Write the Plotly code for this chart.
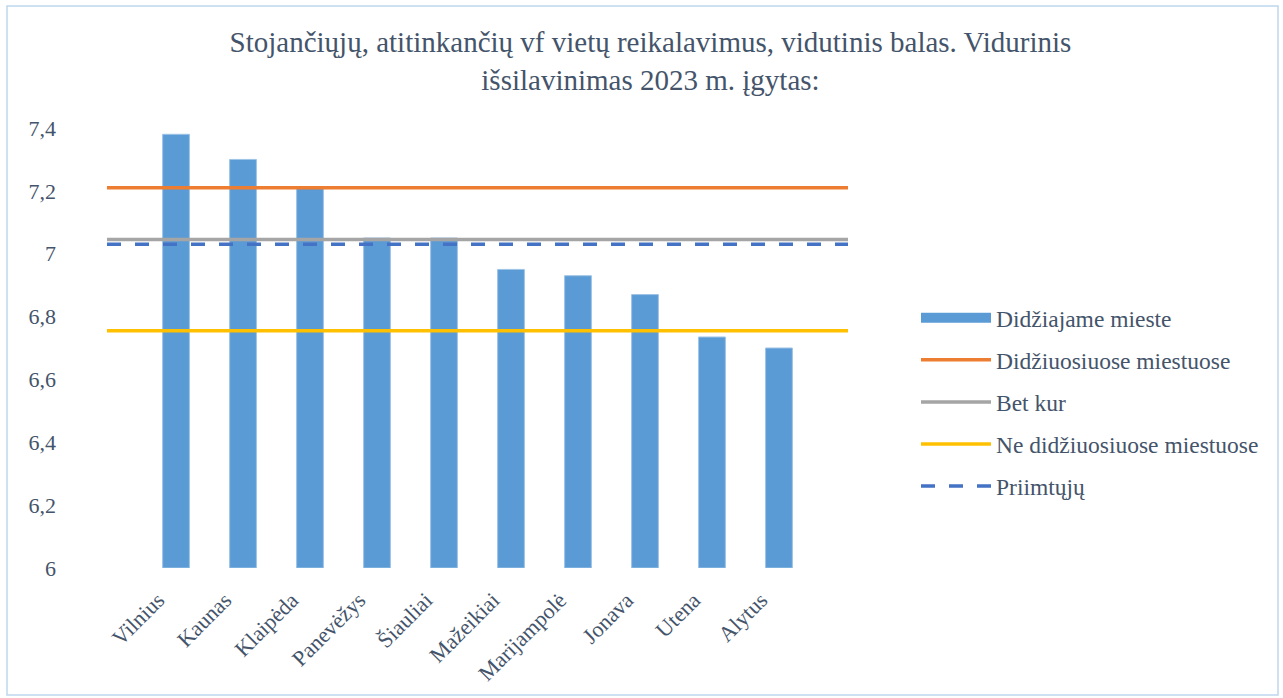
import plotly.graph_objects as go

cities = ["Vilnius", "Kaunas", "Klaipėda", "Panevėžys", "Šiauliai",
          "Mažeikiai", "Marijampolė", "Jonava", "Utena", "Alytus"]
didziajame_mieste = [7.38, 7.30, 7.21, 7.05, 7.05, 6.95, 6.93, 6.87, 6.735, 6.70]

didziuosiuose_miestuose = 7.21
bet_kur = 7.045
ne_didziuosiuose = 6.755
priimtuju = 7.03

y_ticks = [6, 6.2, 6.4, 6.6, 6.8, 7, 7.2, 7.4]
y_tick_labels = ["6", "6,2", "6,4", "6,6", "6,8", "7", "7,2", "7,4"]

title_text = ("Stojančiųjų, atitinkančių vf vietų reikalavimus, vidutinis balas. Vidurinis<br>"
              "išsilavinimas 2023 m. įgytas:")

TEXT = "#44546A"
FONT = "Liberation Serif"

idx = list(range(len(cities)))
x_lo, x_hi = -1.03, len(cities) - 1 + 1.03

W, H = 1283, 698
L, R, T, B = 107, 435, 128, 130
PW, PH = W - L - R, H - T - B


def px_x(p):
    return (p - L) / PW


def px_y(p):
    return (H - B - p) / PH


fig = go.Figure()

fig.add_trace(go.Bar(
    x=idx, y=[v - 6 for v in didziajame_mieste], base=6,
    width=0.4, marker=dict(color="#5B9BD5", line=dict(color="#9DC3E6", width=1)),
    name="Didžiajame mieste", showlegend=False, legendgroup="a",
    hovertext=[f"{c}: {v}" for c, v in zip(cities, didziajame_mieste)],
))
# legend swatch for bars
fig.add_trace(go.Scatter(
    x=[None], y=[None], mode="lines", name="Didžiajame mieste",
    line=dict(color="#5B9BD5", width=11), legendgroup="a",
))

lines = [
    ("Didžiuosiuose miestuose", didziuosiuose_miestuose, "#ED7D31", "solid", "b"),
    ("Bet kur", bet_kur, "#A5A5A5", "solid", "c"),
    ("Ne didžiuosiuose miestuose", ne_didziuosiuose, "#FFC000", "solid", "d"),
    ("Priimtųjų", priimtuju, "#4472C4", "14px,14px", "e"),
]
for name, val, color, dash, grp in lines:
    fig.add_trace(go.Scatter(
        x=[x_lo, x_hi], y=[val, val], mode="lines", name=name,
        line=dict(color=color, width=3.5, dash=dash), legendgroup=grp,
    ))

fig.update_layout(
    width=W, height=H,
    paper_bgcolor="white", plot_bgcolor="white",
    margin=dict(l=L, r=R, t=T, b=B, autoexpand=False),
    font=dict(family=FONT, color=TEXT, size=22),
    title=dict(text=title_text, x=0.507, xanchor="center", y=0.925, yanchor="top",
               font=dict(family=FONT, size=29, color=TEXT)),
    xaxis=dict(range=[x_lo, x_hi], tickvals=idx, ticktext=cities, tickangle=-45,
               showgrid=False, zeroline=False, showline=False,
               ticklabelstandoff=14, ticklabelshift=-18,
               tickfont=dict(size=22, color=TEXT)),
    yaxis=dict(range=[6, 7.4], tickvals=y_ticks, ticktext=y_tick_labels,
               showgrid=False, zeroline=False, showline=False,
               ticklabelstandoff=50, tickfont=dict(size=22, color=TEXT)),
    legend=dict(x=px_x(916), xanchor="left", y=px_y(402), yanchor="middle",
                font=dict(size=23.5, color=TEXT), itemwidth=70,
                tracegroupgap=8.5, traceorder="grouped", bgcolor="rgba(0,0,0,0)"),
    showlegend=True,
    shapes=[dict(type="rect", xref="paper", yref="paper",
                 x0=px_x(7), x1=px_x(1278), y0=px_y(695), y1=px_y(6),
                 line=dict(color="#BDD7EE", width=1.5), layer="below")],
)

fig.write_html("out.html", config={"displayModeBar": False},
               post_script="document.body.style.margin='0';")
